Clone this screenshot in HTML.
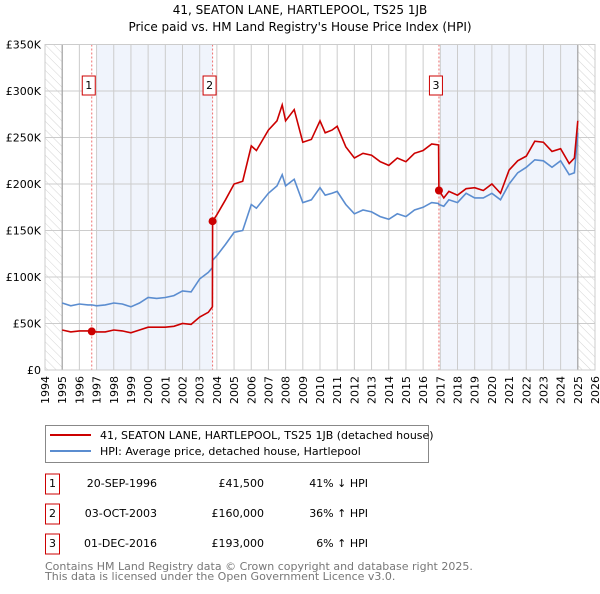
<!DOCTYPE html>
<html><head><meta charset="utf-8"><style>
body{margin:0;background:#fff;width:600px;height:590px;overflow:hidden;font-family:"DejaVu Sans","Liberation Sans",sans-serif}
svg text{font-family:"DejaVu Sans","Liberation Sans",sans-serif}
</style></head><body>
<svg id="chart" width="600" height="590" viewBox="0 0 600 590">
<defs><pattern id="hatch" width="6" height="6" patternUnits="userSpaceOnUse" patternTransform="rotate(-45)"><line x1="0" y1="0" x2="0" y2="6" stroke="#d4d4d4" stroke-width="1"/></pattern></defs>
<text x="300" y="14" text-anchor="middle" font-size="12">41, SEATON LANE, HARTLEPOOL, TS25 1JB</text>
<text x="300" y="31" text-anchor="middle" font-size="12">Price paid vs. HM Land Registry's House Price Index (HPI)</text>
<g id="plot"></g>
<g>
<rect x="45.5" y="425.5" width="383" height="37" fill="#fff" stroke="#888"/>
<line x1="50" y1="435" x2="91" y2="435" stroke="#cc0000" stroke-width="2"/>
<text x="100" y="439" font-size="11">41, SEATON LANE, HARTLEPOOL, TS25 1JB (detached house)</text>
<line x1="50" y1="451" x2="91" y2="451" stroke="#5b8dd0" stroke-width="2"/>
<text x="100" y="455" font-size="11">HPI: Average price, detached house, Hartlepool</text>
</g>
<g id="table" font-size="11"></g>
<text x="45" y="570" font-size="11" fill="#777">Contains HM Land Registry data © Crown copyright and database right 2025.</text>
<text x="45" y="580" font-size="11" fill="#777">This data is licensed under the Open Government Licence v3.0.</text>
</svg>
<script>
const dates=[1995.0,1995.5,1996.0,1996.5,1996.72,1997.0,1997.5,1998.0,1998.5,1999.0,1999.5,2000.0,2000.5,2001.0,2001.5,2002.0,2002.5,2003.0,2003.5,2003.74,2003.75,2004.0,2004.5,2005.0,2005.5,2006.0,2006.3,2007.0,2007.5,2007.8,2008.0,2008.5,2009.0,2009.5,2010.0,2010.3,2010.7,2011.0,2011.5,2012.0,2012.5,2013.0,2013.5,2014.0,2014.5,2015.0,2015.5,2016.0,2016.5,2016.9,2016.92,2017.2,2017.5,2018.0,2018.5,2019.0,2019.5,2020.0,2020.5,2021.0,2021.5,2022.0,2022.5,2023.0,2023.5,2024.0,2024.5,2024.8,2025.0];
const hpi=[72,69,71,70,70,69,70,72,71,68,72,78,77,78,80,85,84,98,105,110,118,123,135,148,150,178,174,190,198,210,198,205,180,183,196,188,190,192,178,168,172,170,165,162,168,165,172,175,180,179,178,176,183,180,190,185,185,190,183,200,212,218,226,225,218,225,210,212,255];
const paid=[43,41,42,42,41.5,41,41,43,42,40,43,46,46,46,47,50,49,57,62,68,160,167,183,200,203,241,236,258,268,285,268,280,245,248,268,255,258,262,240,228,233,231,224,220,228,224,233,236,243,242,193,185,192,188,195,196,193,200,190,215,225,230,246,245,235,238,222,228,268];
const saleDates=[1996.72,2003.75,2016.92];
const salePrices=[41.5,160,193];
const saleLabels=["1","2","3"];
const yTicks=[0,50,100,150,200,250,300,350];
const yTickLabels=["£0","£50K","£100K","£150K","£200K","£250K","£300K","£350K"];
const xYears=[1994,1995,1996,1997,1998,1999,2000,2001,2002,2003,2004,2005,2006,2007,2008,2009,2010,2011,2012,2013,2014,2015,2016,2017,2018,2019,2020,2021,2022,2023,2024,2025,2026];
const tableDates=["20-SEP-1996","03-OCT-2003","01-DEC-2016"];
const tablePrices=["£41,500","£160,000","£193,000"];
const tableHpi=["41% ↓ HPI","36% ↑ HPI","6% ↑ HPI"];

const NS="http://www.w3.org/2000/svg";
const L=45,R=595,T=44.5,B=370;
const x=v=>L+(v-1994)*(R-L)/32;
const y=v=>B-v*(B-T)/350;
const plot=document.getElementById('plot');
function mk(tag,attrs,parent){const e=document.createElementNS(NS,tag);for(const k in attrs)e.setAttribute(k,attrs[k]);(parent||plot).appendChild(e);return e;}

mk('rect',{x:L,y:T,width:R-L,height:B-T,fill:'#fff'});
let e;
e=mk('rect',{x:x(1994),y:T,width:x(1995)-x(1994),height:B-T,fill:'url(#hatch)'});


e=mk('rect',{x:x(2025),y:T,width:x(2026)-x(2025),height:B-T,fill:'url(#hatch)'});


e=mk('rect',{x:x(1997),y:T,width:x(saleDates[1])-x(1997),height:B-T,fill:'#f0f4fc'});


e=mk('rect',{x:x(2017),y:T,width:x(2025)-x(2017),height:B-T,fill:'#f0f4fc'});



xYears.forEach((yr,i)=>{
  e=mk('line',{x1:x(yr),x2:x(yr),y1:T,y2:B,stroke:'#ccc','stroke-width':1});
  
  
  e=mk('text',{x:0,y:0,'font-size':11,'text-anchor':'end',transform:`translate(${x(yr)+4},${B+6}) rotate(-90)`});
  e.textContent=yr;
  
  
});
yTicks.forEach((v,i)=>{
  e=mk('line',{x1:L,x2:R,y1:y(v),y2:y(v),stroke:'#ccc','stroke-width':1});
  
  
  e=mk('text',{x:L-4,y:y(v)+4,'font-size':11,'text-anchor':'end'});
  e.textContent=yTickLabels[i];
  
  
});
e=mk('line',{x1:x(1995),x2:x(1995),y1:T,y2:B,stroke:'#999','stroke-width':1});


e=mk('line',{x1:x(2025),x2:x(2025),y1:T,y2:B,stroke:'#999','stroke-width':1});



saleDates.forEach((d,i)=>{
  e=mk('line',{x1:x(d),x2:x(d),y1:T,y2:B,stroke:'#f07070','stroke-width':1,'stroke-dasharray':'2,2'});
  
  
  const g=mk('g',{});
  
  
  mk('rect',{x:x(d)-9.5,y:76,width:13,height:19,fill:'#fff',stroke:'#cc0000'},g);
  const t=mk('text',{x:x(d)-3,y:89,'font-size':11,'text-anchor':'middle'},g);
  t.textContent=saleLabels[i];
});

function path(vals){return vals.map((v,i)=>(i?'L':'M')+x(dates[i]).toFixed(1)+','+y(v).toFixed(1)).join('');}
e=mk('path',{d:path(hpi),fill:'none',stroke:'#5b8dd0','stroke-width':1.6});


e=mk('path',{d:path(paid),fill:'none',stroke:'#cc0000','stroke-width':1.6});


saleDates.forEach((d,i)=>{
  e=mk('circle',{cx:x(d),cy:y(salePrices[i]),r:4,fill:'#cc0000'});
  
  
});
mk('rect',{x:L,y:T,width:R-L,height:B-T,fill:'none',stroke:'#ccc'});

const tbl=document.getElementById('table');
saleLabels.forEach((lab,i)=>{
  const cy=483+i*30;
  const g=mk('g',{},tbl);
  
  
  mk('rect',{x:45.5,y:cy-9,width:14,height:20,fill:'#fff',stroke:'#cc0000'},g);
  let t=mk('text',{x:52.5,y:cy+4,'text-anchor':'middle'},g);t.textContent=lab;
  t=mk('text',{x:157,y:cy+4,'text-anchor':'end'},g);t.textContent=tableDates[i];
  t=mk('text',{x:264,y:cy+4,'text-anchor':'end'},g);t.textContent=tablePrices[i];
  t=mk('text',{x:368,y:cy+4,'text-anchor':'end'},g);t.textContent=tableHpi[i];
});
</script>
</body></html>
